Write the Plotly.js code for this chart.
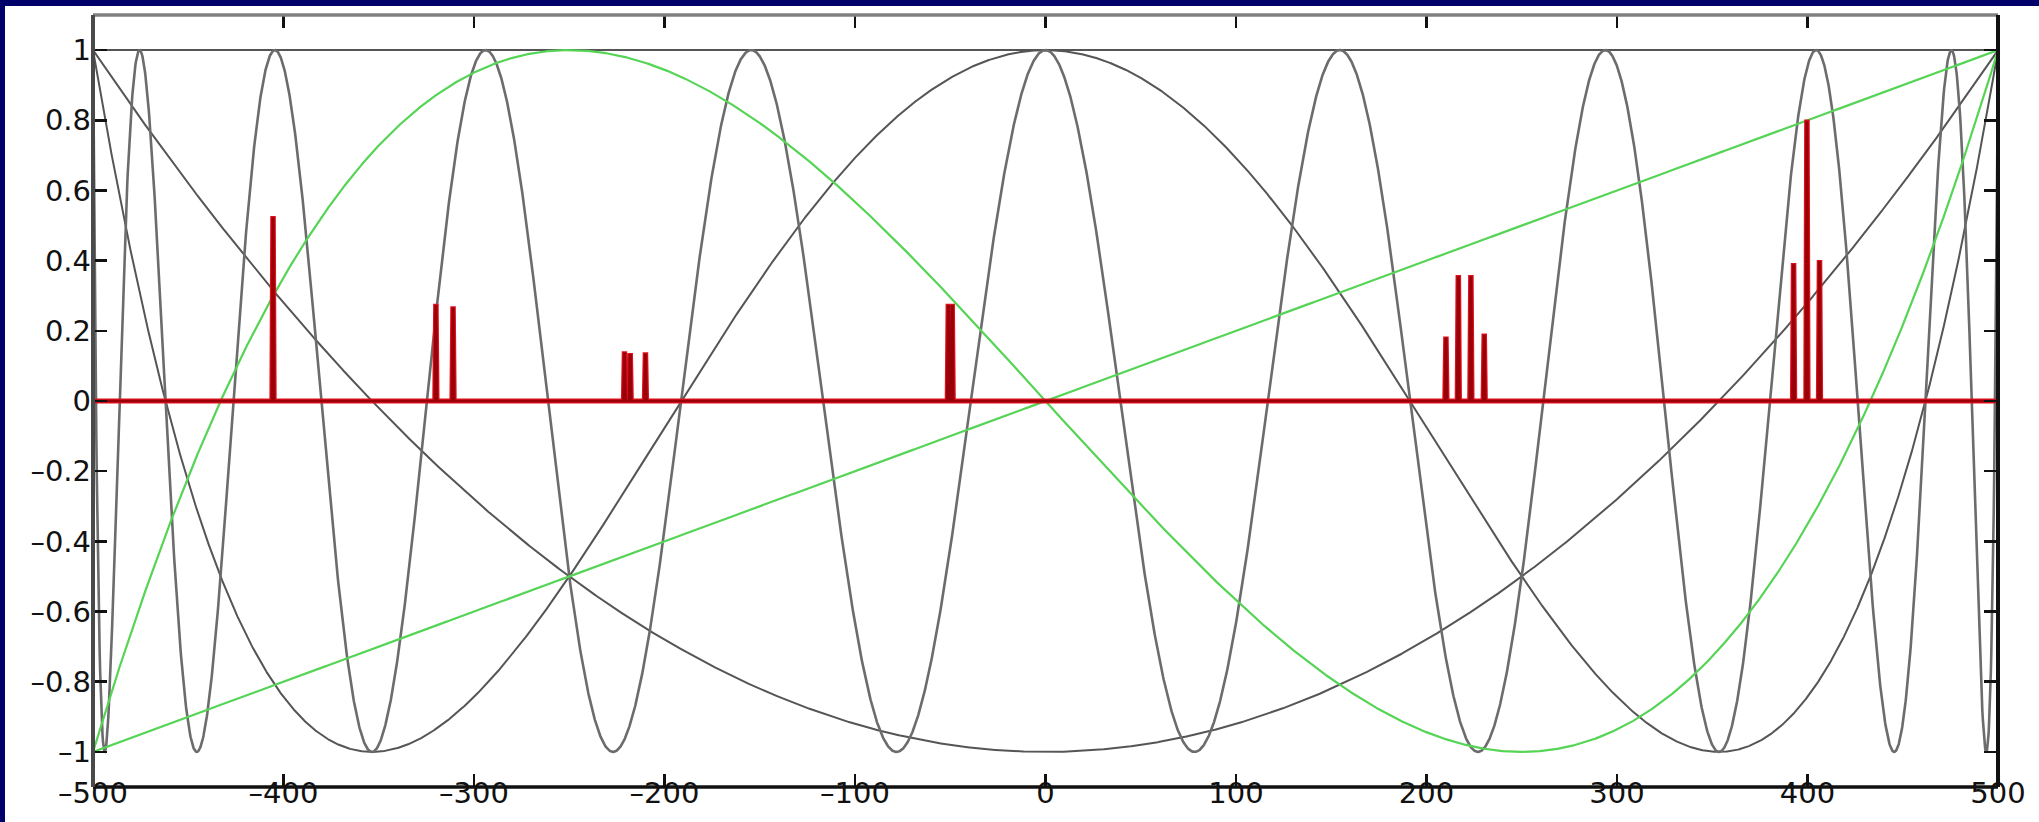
<!DOCTYPE html>
<html>
<head>
<meta charset="utf-8">
<script src="https://cdn.plot.ly/plotly-3.0.1.min.js"></script>
<style>
  html, body { margin: 0; padding: 0; background: #00006b; width: 2039px; height: 822px; overflow: hidden; }
  #chart { position: absolute; left: 5px; top: 6px; width: 2034px; height: 816px; background: #ffffff; }
</style>
</head>
<body>
<div id="chart"></div>
<script>
// ---- data ----
const xTickVals = [-500, -400, -300, -200, -100, 0, 100, 200, 300, 400, 500];
const xTickText = ['–500', '–400', '–300', '–200', '–100', '0', '100', '200', '300', '400', '500'];
const yTickVals = [-1, -0.8, -0.6, -0.4, -0.2, 0, 0.2, 0.4, 0.6, 0.8, 1];
const yTickText = ['–1', '–0.8', '–0.6', '–0.4', '–0.2', '0', '0.2', '0.4', '0.6', '0.8', '1'];
// Chebyshev polynomial degrees drawn in the chart, T_n(x/500)
const grayDegrees = [0, 2, 4, 20];
const greenDegrees = [1, 3];
// red spectrum spikes: positions and heights
const peakX = [-405.5, -320, -311, -221, -218, -210, -51, -49, 210.2, 216.7, 223.3, 230.3, 392.7, 399.7, 406.3];
const peakY = [0.52, 0.27, 0.263, 0.135, 0.13, 0.132, 0.27, 0.27, 0.177, 0.352, 0.352, 0.185, 0.386, 0.795, 0.395];

// ---- build curves ----
const xs = [];
for (let i = 0; i <= 4000; i++) xs.push(-500 + i * 0.25);
function cheb(n) {
  return xs.map(x => {
    const t = Math.max(-1, Math.min(1, x / 500));
    return Math.cos(n * Math.acos(t));
  });
}

const traces = [];
grayDegrees.forEach(n => {
  traces.push({
    x: xs, y: cheb(n), type: 'scatter', mode: 'lines', hoverinfo: 'skip',
    line: { color: n === 20 ? '#6c6c6c' : '#555555', width: n === 20 ? 2.6 : 2 }
  });
});
greenDegrees.forEach(n => {
  traces.push({
    x: xs, y: cheb(n), type: 'scatter', mode: 'lines', hoverinfo: 'skip',
    line: { color: '#55d455', width: 2.2 }
  });
});

// red spectrum: zero baseline with narrow spikes
const rx = [-500], ry = [0];
peakX.forEach((p, i) => {
  rx.push(p - 0.6, p - 0.15, p + 0.15, p + 0.6);
  ry.push(0, peakY[i], peakY[i], 0);
});
rx.push(500); ry.push(0);
traces.push({
  x: rx, y: ry, type: 'scatter', mode: 'lines', hoverinfo: 'skip',
  line: { color: '#e0101c', width: 5 }
});
traces.push({
  x: rx, y: ry, type: 'scatter', mode: 'lines', hoverinfo: 'skip',
  line: { color: '#9a0008', width: 2.6 }
});

const tickFont = { family: 'DejaVu Sans, Arial, sans-serif', size: 29, color: '#111111' };
const layout = {
  width: 2034, height: 816,
  margin: { l: 88, r: 41, t: 9, b: 35, pad: 0 },
  paper_bgcolor: '#ffffff', plot_bgcolor: '#ffffff',
  showlegend: false,
  xaxis: {
    range: [-500, 500], tickvals: xTickVals, ticktext: xTickText, ticks: 'inside', ticklen: 13, tickwidth: 2.5,
    tickcolor: '#111', showgrid: false, zeroline: false, showline: false,
    mirror: 'ticks', tickfont: tickFont, automargin: false, ticklabelstandoff: -14
  },
  yaxis: {
    range: [-1.1, 1.1], tickvals: yTickVals, ticktext: yTickText, ticks: 'inside', ticklen: 14, tickwidth: 2.5,
    tickcolor: '#111', showgrid: false, zeroline: false, showline: false,
    mirror: 'ticks', tickfont: tickFont, automargin: false, ticklabelstandoff: 1
  },
  shapes: [
    { type: 'line', xref: 'paper', yref: 'paper', x0: 0, x1: 1, y0: 1, y1: 1,
      line: { color: '#808080', width: 3.5 } },
    { type: 'line', xref: 'paper', yref: 'paper', x0: 0, x1: 1, y0: 0, y1: 0,
      line: { color: '#111111', width: 3.5 } },
    { type: 'line', xref: 'paper', yref: 'paper', x0: 0, x1: 0, y0: 0, y1: 1,
      line: { color: '#4a4a4a', width: 4 } },
    { type: 'line', xref: 'paper', yref: 'paper', x0: 1, x1: 1, y0: 0, y1: 1,
      line: { color: '#111111', width: 4 } }
  ]
};
Plotly.newPlot('chart', traces, layout, { staticPlot: true, displayModeBar: false });
</script>
</body>
</html>
